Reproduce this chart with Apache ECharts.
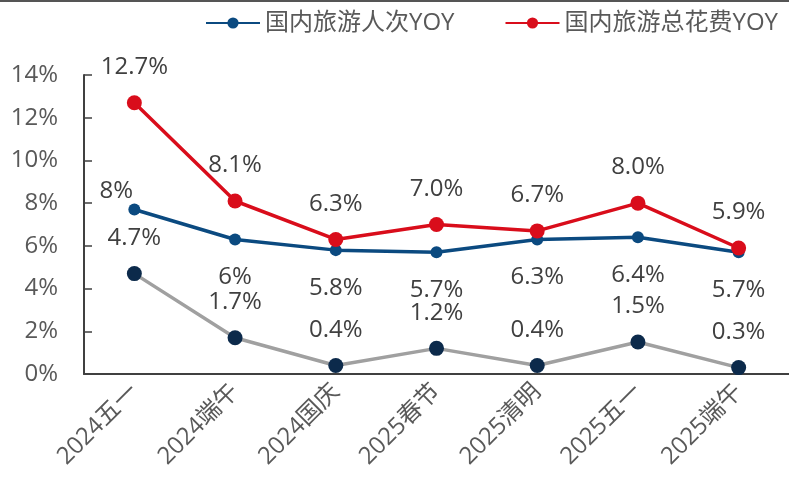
<!DOCTYPE html>
<html>
<head>
<meta charset="utf-8">
<script src="https://cdn.jsdelivr.net/npm/echarts@6/dist/echarts.min.js"></script>
<style>
  html, body { margin: 0; padding: 0; background: #fff; }
  #main { width: 789px; height: 488px; }
</style>
</head>
<body>
<div id="main"></div>
<script>
// 数据
const categories = ["2024五一", "2024端午", "2024国庆", "2025春节", "2025清明", "2025五一", "2025端午"];
const tripsYoy = [7.7, 6.3, 5.8, 5.7, 6.3, 6.4, 5.7];
const tripsLabels = ["8%", "6%", "5.8%", "5.7%", "6.3%", "6.4%", "5.7%"];
const spendYoy = [12.7, 8.1, 6.3, 7.0, 6.7, 8.0, 5.9];
const spendLabels = ["12.7%", "8.1%", "6.3%", "7.0%", "6.7%", "8.0%", "5.9%"];
const perCapYoy = [4.7, 1.7, 0.4, 1.2, 0.4, 1.5, 0.3];
const perCapLabels = ["4.7%", "1.7%", "0.4%", "1.2%", "0.4%", "1.5%", "0.3%"];
const yTicks = [0, 2, 4, 6, 8, 10, 12, 14];

const FONT = '"Open Sans", "Noto Sans CJK SC", sans-serif';

let chart = echarts.init(document.getElementById("main"));

// 第一个点的标签在左上
let tripsData = tripsYoy.map(function (v, i) {
  if (i == 0) return { value: v, label: { position: "top", distance: 0, offset: [-18, 0] } };
  return v;
});

chart.setOption({
  animation: false,
  textStyle: { fontFamily: FONT },
  graphic: [
    { type: "line", shape: { x1: 0, y1: 1, x2: 789, y2: 1 }, style: { stroke: "#555", lineWidth: 2 } },
  ],
  legend: {
    top: 6,
    left: 200,
    itemWidth: 54,
    itemHeight: 14,
    itemGap: 50,
    textStyle: { fontSize: 24, color: "#595959", fontFamily: FONT },
    data: ["国内旅游人次YOY", "国内旅游总花费YOY"],
  },
  grid: {
    left: 84,
    right: -7,
    top: 75,
    bottom: 114,
  },
  xAxis: {
    type: "category",
    data: categories,
    boundaryGap: true,
    axisLine: { lineStyle: { color: "#404040", width: 2 } },
    axisTick: { inside: true, length: 8, lineStyle: { color: "#404040", width: 1.5 } },
    axisLabel: {
      rotate: 45,
      fontSize: 24,
      color: "#595959",
      margin: 14,
      interval: 0,
    },
  },
  yAxis: {
    type: "value",
    min: yTicks[0],
    max: yTicks[yTicks.length - 1],
    interval: 2,
    splitLine: { show: false },
    axisLine: { show: true, lineStyle: { color: "#404040", width: 2 } },
    axisTick: { show: true, inside: true, length: 8, lineStyle: { color: "#404040", width: 1.5 } },
    axisLabel: {
      fontSize: 24,
      color: "#595959",
      margin: 26,
      formatter: function (v) { return v + "%"; },
    },
  },
  series: [
    {
      name: "国内旅游人均花费YOY",
      type: "line",
      data: perCapYoy,
      z: 1,
      symbol: "circle",
      symbolSize: 15,
      lineStyle: { color: "#a0a0a0", width: 3.5 },
      itemStyle: { color: "#0c2a4b" },
      label: {
        show: true,
        position: "top",
        distance: 16,
        fontSize: 24,
        color: "#404040",
        formatter: function (p) { return perCapLabels[p.dataIndex]; },
      },
    },
    {
      name: "国内旅游人次YOY",
      type: "line",
      data: tripsData,
      z: 2,
      symbol: "circle",
      symbolSize: 12,
      lineStyle: { color: "#0b4a80", width: 3.5 },
      itemStyle: { color: "#0b4a80" },
      label: {
        show: true,
        position: "bottom",
        distance: 20,
        fontSize: 24,
        color: "#404040",
        formatter: function (p) { return tripsLabels[p.dataIndex]; },
      },
    },
    {
      name: "国内旅游总花费YOY",
      type: "line",
      data: spendYoy,
      z: 3,
      symbol: "circle",
      symbolSize: 15,
      lineStyle: { color: "#d90d1b", width: 3.5 },
      itemStyle: { color: "#d90d1b" },
      label: {
        show: true,
        position: "top",
        distance: 16,
        fontSize: 24,
        color: "#404040",
        formatter: function (p) { return spendLabels[p.dataIndex]; },
      },
    },
  ],
});
</script>
</body>
</html>
